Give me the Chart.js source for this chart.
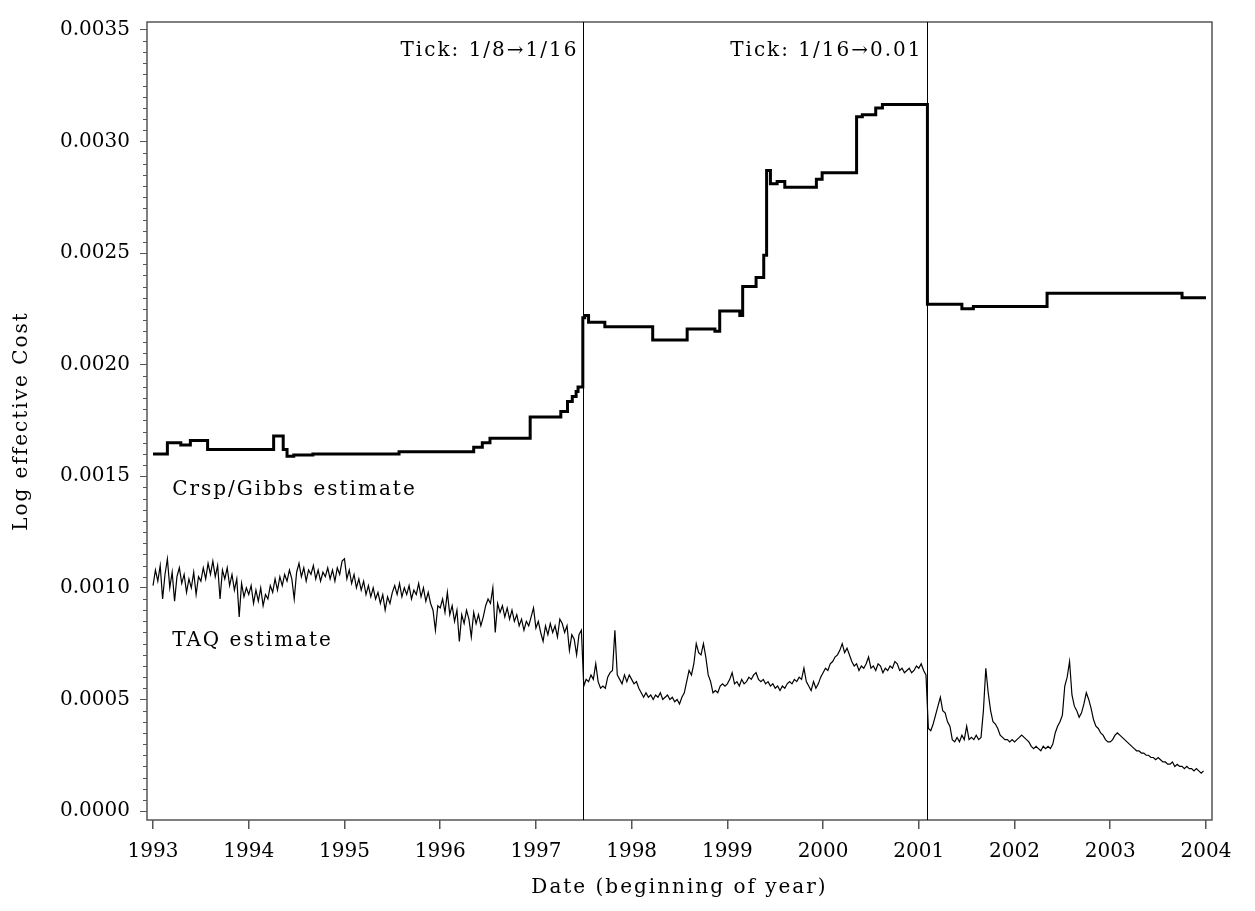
<!DOCTYPE html>
<html>
<head>
<meta charset="utf-8">
<script src="https://cdn.jsdelivr.net/npm/chart.js@4.4.1/dist/chart.umd.min.js"></script>
<style>
  html, body { margin: 0; padding: 0; background: #fff; }
  #wrap { width: 1255px; height: 911px; }
</style>
</head>
<body>
<div id="wrap"><canvas id="chart" width="1255" height="911"></canvas></div>
<script>
// tick labels
const xTickYears = [1993, 1994, 1995, 1996, 1997, 1998, 1999, 2000, 2001, 2002, 2003, 2004];
const yTickValues = [0, 0.0005, 0.0010, 0.0015, 0.0020, 0.0025, 0.0030, 0.0035];

// Crsp/Gibbs estimate: step changes (year, value in 1e-5)
const crspDates = [1993.00, 1993.15, 1993.29, 1993.39, 1993.57, 1994.26, 1994.36, 1994.40, 1994.47, 1994.67,
  1995.57, 1996.35, 1996.44, 1996.52, 1996.94, 1997.26, 1997.33, 1997.38, 1997.42, 1997.44,
  1997.49, 1997.51, 1997.55, 1997.72, 1998.22, 1998.58, 1998.87, 1998.92, 1999.13, 1999.16,
  1999.30, 1999.38, 1999.41, 1999.45, 1999.52, 1999.60, 1999.93, 1999.99, 2000.35, 2000.41,
  2000.55, 2000.62, 2001.09, 2001.45, 2001.57, 2002.34, 2003.75, 2004.00];
const crspValues = [160, 165, 164, 166, 162, 168, 162, 159, 159.5, 160,
  161, 163, 165, 167, 176.5, 179, 183.5, 185.7, 188, 190,
  221, 222, 219, 217, 211, 216, 215, 224, 222, 235,
  239, 249, 287, 281, 282, 279.5, 283, 286, 311, 312,
  315, 316.5, 227, 225, 226, 232, 230, 230];

// TAQ estimate: 40 readings per year (value in 1e-5)
const taqYears = [1993, 1994, 1995, 1996, 1997, 1998, 1999, 2000, 2001, 2002, 2003];
const taq1993 = [101, 108, 103, 110, 95, 106, 113, 100, 107, 94, 105, 109, 102, 106, 98, 104, 100, 107, 97, 105,
  103, 109, 104, 111, 106, 112, 105, 110, 95, 108, 104, 109, 101, 106, 99, 104, 87, 102, 96, 100];
const taq1994 = [97, 101, 93, 99, 94, 100, 92, 97, 95, 101, 98, 104, 99, 105, 101, 106, 103, 108, 104, 95,
  107, 111, 105, 109, 103, 108, 106, 110, 104, 108, 103, 107, 105, 109, 104, 108, 103, 109, 106, 112];
const taq1995 = [113, 104, 108, 102, 106, 100, 104, 99, 103, 97, 101, 96, 100, 95, 98, 93, 97, 90, 96, 93,
  98, 101, 97, 102, 96, 100, 97, 101, 95, 99, 97, 102, 96, 100, 94, 98, 93, 90, 81, 92];
const taq1996 = [91, 95, 89, 98, 88, 92, 85, 90, 76, 88, 84, 90, 86, 78, 89, 84, 88, 83, 87, 92,
  95, 93, 100, 80, 93, 89, 92, 87, 91, 86, 90, 85, 88, 83, 86, 81, 85, 83, 87, 91];
const taq1997 = [82, 85, 80, 76, 83, 79, 84, 80, 83, 78, 86, 84, 80, 83, 72, 79, 77, 70, 79, 81,
  56, 59, 58, 61, 59, 66, 58, 55, 56, 55, 60, 62, 63, 81, 61, 59, 57, 61, 58, 61];
const taq1998 = [59, 57, 58, 55, 53, 51, 53, 51, 52, 50, 52, 51, 53, 50, 51, 52, 50, 51, 49, 50,
  48, 51, 53, 58, 63, 61, 66, 75, 71, 70, 75, 69, 61, 58, 53, 54, 53, 56, 57, 56];
const taq1999 = [57, 59, 62, 57, 58, 56, 59, 57, 58, 60, 59, 61, 62, 59, 58, 59, 57, 58, 56, 57,
  55, 56, 54, 56, 55, 57, 58, 57, 59, 58, 60, 59, 64, 58, 56, 54, 58, 55, 57, 60];
const taq2000 = [62, 64, 63, 66, 67, 69, 70, 72, 75, 71, 73, 70, 67, 65, 66, 63, 65, 64, 66, 69,
  64, 65, 63, 66, 65, 62, 64, 63, 65, 64, 67, 66, 63, 64, 62, 63, 64, 62, 63, 65];
const taq2001 = [64, 66, 63, 61, 37, 36, 39, 43, 47, 51, 45, 44, 40, 38, 32, 31, 33, 31, 34, 32,
  38, 32, 33, 32, 34, 32, 33, 45, 64, 53, 45, 40, 39, 37, 34, 33, 32, 32, 31, 32];
const taq2002 = [31, 32, 33, 34, 33, 32, 31, 29, 28, 29, 28, 27, 29, 28, 29, 28, 30, 35, 38, 40,
  43, 56, 60, 67, 52, 47, 45, 42, 44, 48, 53, 50, 46, 41, 38, 37, 35, 34, 32, 31];
const taq2003 = [31, 32, 34, 35, 34, 33, 32, 31, 30, 29, 28, 27, 27, 26, 26, 25, 25, 24, 24, 23,
  24, 23, 22, 22, 21, 21, 22, 20, 21, 20, 20, 19, 20, 19, 19, 18, 19, 18, 17, 18];
const taqByYear = [taq1993, taq1994, taq1995, taq1996, taq1997, taq1998, taq1999, taq2000, taq2001, taq2002, taq2003];

// regime changes in tick size
const tickChanges = [1997.49, 2001.09];
const tickChangeLabels = ['Tick: 1/8\u21921/16', 'Tick: 1/16\u21920.01'];

const crspPoints = crspDates.map((d, i) => ({ x: d, y: crspValues[i] * 1e-5 }));
const taqPoints = [];
taqByYear.forEach((vals, k) => {
    vals.forEach((v, i) => taqPoints.push({ x: taqYears[k] + i / 40, y: v * 1e-5 }));
});

const SERIF = '"DejaVu Serif", "Liberation Serif", serif';
const AXIS_COLOR = '#555';

// frame, minor ticks, event lines, text labels, axis titles
const decorPlugin = {
    id: 'decor',
    afterDraw(chart) {
        const ctx = chart.ctx;
        const a = chart.chartArea;
        const xs = chart.scales.x;
        const ys = chart.scales.y;
        ctx.save();

        // box round the plot
        ctx.strokeStyle = AXIS_COLOR;
        ctx.lineWidth = 1.5;
        ctx.strokeRect(a.left, a.top, a.right - a.left, a.bottom - a.top);

        // minor y ticks every 0.00005
        ctx.lineWidth = 1;
        for (let k = 1; k < 70; k++) {
            if (k % 10 === 0) continue;
            const py = Math.round(ys.getPixelForValue(k * 0.00005)) + 0.5;
            ctx.beginPath();
            ctx.moveTo(a.left - 4, py);
            ctx.lineTo(a.left, py);
            ctx.stroke();
        }

        // vertical lines at tick size changes
        ctx.strokeStyle = '#000';
        ctx.lineWidth = 1;
        tickChanges.forEach((d, i) => {
            const px = Math.round(xs.getPixelForValue(d)) + 0.5;
            ctx.beginPath();
            ctx.moveTo(px, a.top);
            ctx.lineTo(px, a.bottom);
            ctx.stroke();
            ctx.fillStyle = '#000';
            ctx.font = '20px ' + SERIF;
            ctx.letterSpacing = '2px';
            ctx.textAlign = 'right';
            ctx.textBaseline = 'alphabetic';
            ctx.fillText(tickChangeLabels[i], px - 5, a.top + 34);
        });

        // series labels
        ctx.textAlign = 'left';
        ctx.fillText('Crsp/Gibbs estimate', xs.getPixelForValue(1993.2), ys.getPixelForValue(0.001418));
        ctx.fillText('TAQ estimate', xs.getPixelForValue(1993.2), ys.getPixelForValue(0.00074));

        // axis titles
        ctx.textAlign = 'center';
        ctx.textBaseline = 'middle';
        ctx.fillText('Date (beginning of year)', (a.left + a.right) / 2, 888);
        ctx.translate(22, (a.top + a.bottom) / 2);
        ctx.rotate(-Math.PI / 2);
        ctx.fillText('Log effective Cost', 0, 0);
        ctx.restore();
    }
};

new Chart(document.getElementById('chart'), {
    type: 'line',
    data: {
        datasets: [{
            label: 'Crsp/Gibbs estimate',
            data: crspPoints,
            stepped: true,
            borderColor: '#000',
            borderWidth: 3,
            pointRadius: 0,
            fill: false
        }, {
            label: 'TAQ estimate',
            data: taqPoints,
            borderColor: '#000',
            borderWidth: 1.2,
            pointRadius: 0,
            tension: 0,
            fill: false
        }]
    },
    options: {
        responsive: false,
        animation: false,
        layout: { padding: { top: 11, right: 43, left: 0, bottom: 0 } },
        scales: {
            x: {
                type: 'linear',
                min: 1992.937,
                max: 2004.063,
                afterFit: s => { s.height = 91; },
                afterBuildTicks: s => { s.ticks = xTickYears.map(v => ({ value: v })); },
                grid: { drawOnChartArea: false, drawTicks: true, tickLength: 9, color: AXIS_COLOR, lineWidth: 1.5 },
                border: { display: false },
                ticks: {
                    padding: 11,
                    maxRotation: 0,
                    color: '#000',
                    font: { family: SERIF, size: 20 },
                    callback: v => String(v)
                }
            },
            y: {
                type: 'linear',
                min: -0.00004,
                max: 0.003535,
                afterFit: s => { s.width = 147; },
                afterBuildTicks: s => { s.ticks = yTickValues.map(v => ({ value: v })); },
                grid: { drawOnChartArea: false, drawTicks: true, tickLength: 7, color: AXIS_COLOR, lineWidth: 1 },
                border: { display: false },
                ticks: {
                    padding: 10,
                    color: '#000',
                    font: { family: SERIF, size: 20 },
                    callback: v => v.toFixed(4)
                }
            }
        },
        plugins: {
            legend: { display: false },
            tooltip: { enabled: false }
        }
    },
    plugins: [decorPlugin]
});
</script>
</body>
</html>
